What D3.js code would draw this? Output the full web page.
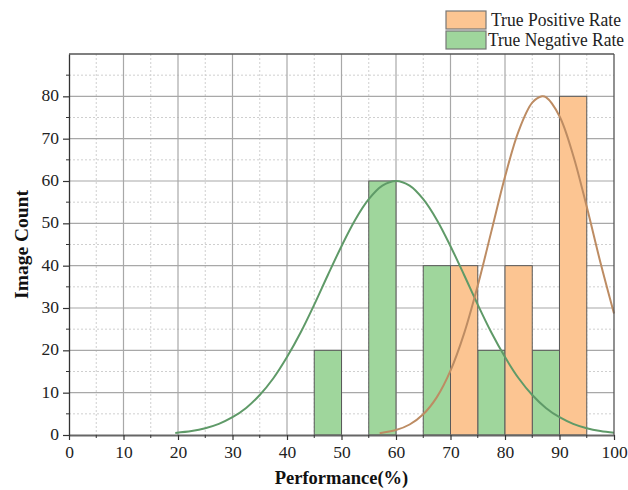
<!DOCTYPE html>
<html>
<head>
<meta charset="utf-8">
<script src="https://cdn.jsdelivr.net/npm/d3@7"></script>
<style>
  html, body { margin: 0; padding: 0; background: #fff; }
  svg { display: block; }
</style>
</head>
<body>
<svg id="chart" width="628" height="490"></svg>
<script>
// ---- Data ----
const binStart = [45, 55, 65, 70, 75, 80, 85, 90];
const binWidth = 5;
const negativeCounts = [20, 60, 40, null, 20, null, 20, null];
const positiveCounts = [null, null, null, 40, null, 40, null, 80];

const negCurveX = [19.5, 22.5, 25, 27.5, 30, 32.5, 35, 37.5, 40, 42.5, 45, 47.5, 50, 52.5, 55, 57.5, 60, 62.5, 65, 67.5, 70, 72.5, 75, 77.5, 80, 82.5, 85, 87.5, 90, 92.5, 95, 97.5, 100];
const negCurveY = [0.5, 0.94, 1.6, 2.64, 4.2, 6.4, 9.45, 13.4, 18.4, 24.2, 30.8, 37.8, 44.6, 50.8, 55.7, 58.9, 60, 58.9, 55.7, 50.8, 44.6, 37.8, 30.8, 24.2, 18.4, 13.4, 9.45, 6.4, 4.2, 2.64, 1.6, 0.94, 0.53];

const posCurveX = [57, 60, 62.5, 65, 67.5, 70, 72.5, 75, 77.5, 80, 82.5, 85, 86.8, 87.5, 90, 92.5, 95, 97.5, 100];
const posCurveY = [0.43, 1.17, 2.48, 4.89, 8.95, 15.2, 24.0, 35.3, 48.1, 61.0, 71.8, 78.5, 80, 79.8, 75.3, 66.1, 53.9, 40.8, 28.7];

const xTicks = [0, 10, 20, 30, 40, 50, 60, 70, 80, 90, 100];
const yTicks = [0, 10, 20, 30, 40, 50, 60, 70, 80];
const legendLabels = ["True Positive Rate", "True Negative Rate"];
const xTitle = "Performance(%)";
const yTitle = "Image Count";

// ---- Styles ----
const greenFill = "#9fd69c";
const orangeFill = "#fcc592";
const greenLine = "#5f9a68";
const orangeLine = "#bd8c63";
const barStroke = "#5a5a5a";
const serif = "'Liberation Serif', 'Times New Roman', serif";

const margin = { left: 69, right: 14, top: 54, bottom: 55 };
const W = 628, H = 490;
const svg = d3.select("#chart");

const x = d3.scaleLinear().domain([0, 100]).range([margin.left, W - margin.right]);
const y = d3.scaleLinear().domain([0, 90]).range([H - margin.bottom, margin.top]);

const x0 = x.range()[0], x1 = x.range()[1];
const yB = y.range()[0], yT = y.range()[1];

// grid
const g = svg.append("g");
const minorX = d3.range(5, 100, 10);
const minorY = d3.range(5, 90, 10);
g.selectAll(".mgx").data(minorX).join("line")
  .attr("x1", d => x(d)).attr("x2", d => x(d)).attr("y1", yT).attr("y2", yB)
  .attr("stroke", "#cfcfcf").attr("stroke-width", 1).attr("stroke-dasharray", "2,2");
g.selectAll(".mgy").data(minorY).join("line")
  .attr("y1", d => y(d)).attr("y2", d => y(d)).attr("x1", x0).attr("x2", x1)
  .attr("stroke", "#cfcfcf").attr("stroke-width", 1).attr("stroke-dasharray", "2,2");
g.selectAll(".Mgx").data(xTicks.filter(d => d > 0 && d < 100)).join("line")
  .attr("x1", d => x(d)).attr("x2", d => x(d)).attr("y1", yT).attr("y2", yB)
  .attr("stroke", "#a8a8a8").attr("stroke-width", 1.2);
g.selectAll(".Mgy").data(yTicks.filter(d => d > 0)).join("line")
  .attr("y1", d => y(d)).attr("y2", d => y(d)).attr("x1", x0).attr("x2", x1)
  .attr("stroke", "#a8a8a8").attr("stroke-width", 1.2);

// bars
const bars = svg.append("g");
function drawBars(vals, fill) {
  const data = binStart.map((s, i) => ({ s, v: vals[i] })).filter(d => d.v != null);
  bars.selectAll(null).data(data).join("rect")
    .attr("x", d => x(d.s)).attr("width", d => x(d.s + binWidth) - x(d.s))
    .attr("y", d => y(d.v)).attr("height", d => y(0) - y(d.v))
    .attr("fill", fill).attr("stroke", barStroke).attr("stroke-width", 1);
}
drawBars(negativeCounts, greenFill);
drawBars(positiveCounts, orangeFill);

// curves
const line = d3.line().x(d => x(d[0])).y(d => y(d[1])).curve(d3.curveCatmullRom);
svg.append("path").datum(negCurveX.map((v, i) => [v, negCurveY[i]]))
  .attr("d", line).attr("fill", "none").attr("stroke", greenLine).attr("stroke-width", 2);
svg.append("path").datum(posCurveX.map((v, i) => [v, posCurveY[i]]))
  .attr("d", line).attr("fill", "none").attr("stroke", orangeLine).attr("stroke-width", 2);

// frame
svg.append("line").attr("x1", x0).attr("x2", x1).attr("y1", yT).attr("y2", yT).attr("stroke", "#555").attr("stroke-width", 1.3);
svg.append("line").attr("x1", x1).attr("x2", x1).attr("y1", yT).attr("y2", yB).attr("stroke", "#555").attr("stroke-width", 1.3);

// axes
const xAxis = svg.append("g").attr("transform", `translate(0,${yB})`)
  .call(d3.axisBottom(x).tickValues(xTicks).tickSize(5).tickPadding(6).tickSizeOuter(0));
const yAxis = svg.append("g").attr("transform", `translate(${x0},0)`)
  .call(d3.axisLeft(y).tickValues(yTicks).tickSize(6).tickPadding(4).tickSizeOuter(0));
[xAxis, yAxis].forEach(a => {
  a.attr("font-size", null).attr("font-family", null);
  a.selectAll("text").style("font-family", serif).style("font-size", "17.5px").attr("fill", "#222");
  a.selectAll(".tick line").attr("stroke", "#333").attr("stroke-width", 1.2);
});
xAxis.select(".domain").attr("stroke", "#666").attr("stroke-width", 2);
yAxis.select(".domain").attr("stroke", "#333").attr("stroke-width", 1.3);
yAxis.selectAll(".tick text").attr("dy", "0.25em");
// minor ticks
svg.append("g").selectAll("line").data(minorX).join("line")
  .attr("x1", d => x(d)).attr("x2", d => x(d)).attr("y1", yB).attr("y2", yB + 3)
  .attr("stroke", "#333");
svg.append("g").selectAll("line").data(minorY).join("line")
  .attr("y1", d => y(d)).attr("y2", d => y(d)).attr("x1", x0 - 3).attr("x2", x0)
  .attr("stroke", "#333");

// titles
svg.append("text").attr("x", (x0 + x1) / 2).attr("y", 484).attr("text-anchor", "middle")
  .attr("font-family", serif).attr("font-weight", "bold").attr("font-size", 18.5).attr("fill", "#111")
  .text(xTitle);
svg.append("text").attr("transform", `translate(28,${(yT + yB) / 2}) rotate(-90)`)
  .attr("text-anchor", "middle")
  .attr("font-family", serif).attr("font-weight", "bold").attr("font-size", 19.5).attr("fill", "#111")
  .text(yTitle);

// legend
const legFills = [orangeFill, greenFill];
const legWidths = [130, 136];
const leg = svg.append("g");
legendLabels.forEach((lab, i) => {
  const ly = 11 + i * 20;
  leg.append("rect").attr("x", 446).attr("y", ly).attr("width", 40).attr("height", 18)
    .attr("fill", legFills[i]).attr("stroke", "#777").attr("stroke-width", 1.2);
  leg.append("text").attr("x", i === 0 ? 491 : 488).attr("y", ly + 15)
    .attr("font-family", serif).attr("font-size", 18).attr("fill", "#222")
    .attr("textLength", legWidths[i]).attr("lengthAdjust", "spacingAndGlyphs")
    .text(lab);
});
</script>
</body>
</html>
